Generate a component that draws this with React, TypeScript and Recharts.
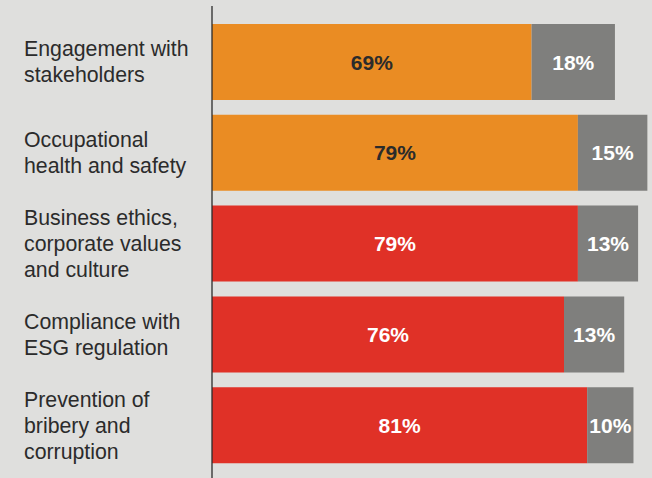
import { Bar, BarChart, Cell, LabelList, XAxis, YAxis } from "recharts";

const categories = [
  "Engagement with\nstakeholders",
  "Occupational\nhealth and safety",
  "Business ethics,\ncorporate values\nand culture",
  "Compliance with\nESG regulation",
  "Prevention of\nbribery and\ncorruption",
];
const mainShare = [69, 79, 79, 76, 81];
const restShare = [18, 15, 13, 13, 10];

const ORANGE = "#EA8C23";
const RED = "#E03127";
const GREY = "#7F7F7D";
const rowColors = [ORANGE, ORANGE, RED, RED, RED];

const data = categories.map((name, i) => ({
  name,
  main: mainShare[i],
  rest: restShare[i],
}));

function CategoryTick(props: any) {
  const { y, payload } = props;
  const lines: string[] = String(payload.value).split("\n");
  const lh = 26;
  const startY = y - ((lines.length - 1) * lh) / 2;
  return (
    <text
      x={24}
      y={startY}
      fill="#2b2b2b"
      fontSize={21.3}
      fontFamily="'Liberation Sans', Arial, sans-serif"
      textAnchor="start"
      dominantBaseline="central"
    >
      {lines.map((l, i) => (
        <tspan key={i} x={24} y={startY + i * lh}>
          {l}
        </tspan>
      ))}
    </text>
  );
}

function makeValueLabel(darkOnOrange: boolean) {
  return (props: any) => {
    const { x, y, width, height, value, index } = props;
    const fill = darkOnOrange && rowColors[index] === ORANGE ? "#2b2b2b" : "#ffffff";
    return (
      <text
        x={x + width / 2}
        y={y + height / 2}
        fill={fill}
        fontSize={21}
        fontWeight="bold"
        fontFamily="'Liberation Sans', Arial, sans-serif"
        textAnchor="middle"
        dominantBaseline="central"
      >
        {value}%
      </text>
    );
  };
}

export default function App() {
  return (
    <div
      style={{
        position: "absolute",
        left: 0,
        top: 0,
        width: 652,
        height: 478,
        background: "#DFDFDD",
      }}
    >
      <BarChart
        width={652}
        height={478}
        data={data}
        layout="vertical"
        margin={{ top: 6, right: 0, bottom: 0, left: 0 }}
        barSize={76}
      >
        <XAxis type="number" domain={[0, 95]} hide />
        <Bar dataKey="main" stackId="a" isAnimationActive={false}>
          {data.map((_, i) => (
            <Cell key={i} fill={rowColors[i]} />
          ))}
          <LabelList dataKey="main" content={makeValueLabel(true)} />
        </Bar>
        <Bar dataKey="rest" stackId="a" fill={GREY} isAnimationActive={false}>
          <LabelList dataKey="rest" content={makeValueLabel(false)} />
        </Bar>
        <YAxis
          type="category"
          dataKey="name"
          width={212}
          padding={{ top: 11, bottom: 7 }}
          axisLine={{ stroke: "#2b2b2b", strokeWidth: 1.3 }}
          tickLine={false}
          tick={<CategoryTick />}
          interval={0}
        />
      </BarChart>
    </div>
  );
}
